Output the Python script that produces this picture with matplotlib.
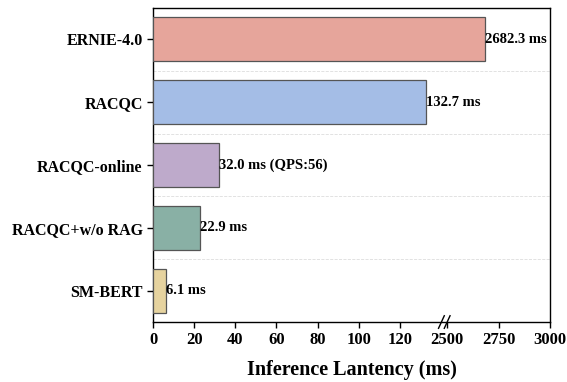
import numpy as np
import matplotlib.pyplot as plt

# datos
modelos = ['ERNIE-4.0', 'RACQC', 'RACQC-online', 'RACQC+w/o RAG', 'SM-BERT']
latencias = [2682.3, 132.7, 32.0, 22.9, 6.1]
etiquetas = ['2682.3 ms', '132.7 ms', '32.0 ms (QPS:56)', '22.9 ms', '6.1 ms']
colores = ['#E6A59B', '#A4BDE6', '#BEAACB', '#89B0A5', '#E6D39F']
ticks_x = [0, 20, 40, 60, 80, 100, 120, 2500, 2750, 3000]

plt.rcParams['font.family'] = ['Liberation Serif', 'DejaVu Serif']
plt.rcParams['font.weight'] = 'bold'

CORTE = 142.0


# eje x partido: 0-142 lineal, 2500-3000 comprimido x10
def adelante(x):
    x = np.asarray(x, dtype=float)
    return np.where(x <= CORTE, x, 143 + (x - 2500) / 10.0)


def inversa(y):
    y = np.asarray(y, dtype=float)
    return np.where(y <= CORTE, y, 2500 + (y - 143) * 10.0)


fig = plt.figure(figsize=(5.67, 3.82), dpi=100)
ax = fig.add_axes([0.270, 0.157, 0.700, 0.822])
ax.set_xscale('function', functions=(adelante, inversa))

pos = np.arange(len(modelos))
ax.barh(pos, latencias, height=0.7, color=colores, edgecolor='#555555', linewidth=0.9, zorder=3)

for p, v, t in zip(pos, latencias, etiquetas):
    ax.text(v, p, t, ha='left', va='center', fontsize=10.5, fontweight='bold', zorder=4)

ax.set_ylim(len(modelos) - 0.5, -0.5)
ax.set_yticks(pos)
ax.set_yticklabels(modelos, fontsize=11.5, fontweight='bold')
ax.set_yticks(pos[:-1] + 0.5, minor=True)
ax.tick_params(axis='y', which='minor', length=0)
ax.grid(axis='y', which='minor', linestyle='--', color='#dddddd', linewidth=0.6, zorder=0)

ax.set_xlim(0, 3000)
ax.set_xticks(ticks_x)
ax.set_xticklabels([str(t) for t in ticks_x], fontsize=12, fontweight='bold')
ax.xaxis.set_minor_locator(plt.NullLocator())
ax.tick_params(axis='both', which='major', direction='out', length=4, width=1, colors='black')
ax.set_xlabel('Inference Lantency (ms)', fontsize=14.5, fontweight='bold', labelpad=8)

for s in ax.spines.values():
    s.set_linewidth(1.0)

# marcas de corte
tr = ax.get_xaxis_transform()
xb = float(adelante(2500))
for dx in (-2.8, 0.0):
    ax.plot([inversa(xb + dx - 1.4), inversa(xb + dx + 1.4)], [-0.02, 0.02],
            transform=tr, color='black', linewidth=1, clip_on=False, zorder=5)

plt.savefig('out.png', dpi=100)
